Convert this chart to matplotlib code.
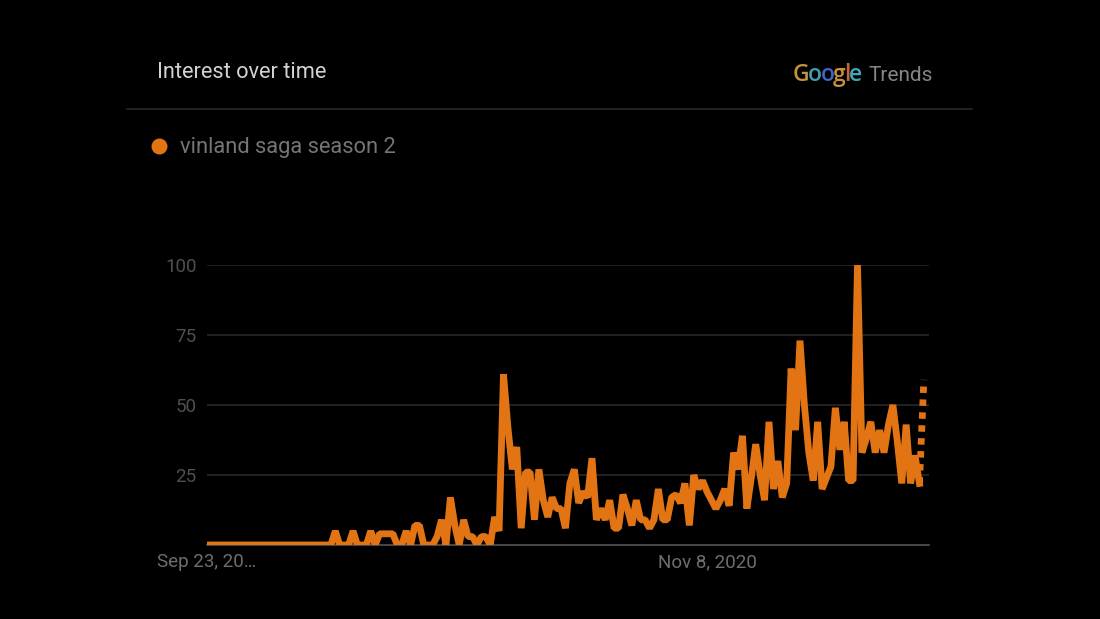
import numpy as np
import matplotlib
matplotlib.use("Agg")
import matplotlib.pyplot as plt

plt.rcParams['font.family'] = ['Roboto', 'DejaVu Sans']

# interest values, one per sample
values = [0] * 29 + [
    5, 0, 0, 0, 5, 0, 0, 0, 5, 0, 4, 4, 4, 4, 0, 0,
    5, 0, 7, 7, 0, 0, 0, 3, 9, 0, 17, 7, 0, 9, 3, 3,
    0, 3, 3, 0, 10, 5, 61, 42, 27, 35, 6, 26, 26, 9, 27, 16,
    10, 17, 13, 13, 6, 22, 27, 15, 19, 17, 31, 9, 13, 9, 16, 6,
    6, 18, 13, 7, 16, 9, 9, 6, 9, 20, 9, 9, 17, 18, 15, 22,
    7, 25, 20, 23, 19, 16, 13, 16, 20, 14, 33, 27, 39, 13, 24, 36,
    25, 16, 44, 20, 30, 17, 22, 63, 41, 73, 50, 33, 23, 44, 20, 24,
    28, 49, 34, 44, 23, 23, 100, 33, 38, 44, 33, 41, 33, 43, 50, 37,
    22, 43, 22, 32, 22, 59,
]
y_ticks = [25, 50, 75, 100]
y_labels = ['25', '50', '75', '100']
x_tick_pos = [0, 113]
x_labels = ['Sep 23, 20…', 'Nov 8, 2020']
series_name = 'vinland saga season 2'
logo_letters = ['G', 'o', 'o', 'g', 'l', 'e']
logo_colors = ['#c8923c', '#3f9fb0', '#4065c4', '#c8923c', '#c4683c', '#3fa9b8']

W, H = 1100, 619
ORANGE = '#e37414'

fig = plt.figure(figsize=(W / 100, H / 100), dpi=100, facecolor='black')
ax = fig.add_axes([207 / W, 1 - 545 / H, (929 - 207) / W, 280 / H], facecolor='black')

x = np.arange(len(values))
ax.plot(x[:-1], values[:-1], color=ORANGE, lw=4.9, solid_joinstyle='bevel', zorder=3)
ax.plot(x[-2:], values[-2:], color=ORANGE, lw=4.9, linestyle=(0, (0.95, 0.95)), zorder=3)

ax.set_xlim(0, 163.16)
ax.set_ylim(0, 100)
ax.set_yticks(y_ticks, y_labels)
ax.set_xticks(x_tick_pos, x_labels)
ax.tick_params(axis='y', length=0, pad=7.5, labelsize=13.5, labelcolor='#4f4f4f')
ax.tick_params(axis='x', length=0, pad=6, labelsize=13.5, labelcolor='#6e6e6e')
ax.grid(axis='y', color='#2b2b2b', lw=1.1)
ax.set_axisbelow(True)
for side in ['top', 'left', 'right']:
    ax.spines[side].set_visible(False)
ax.spines['bottom'].set_color('#5c5c5c')
ax.spines['bottom'].set_linewidth(1.1)

# header
fig.text(157 / W, 1 - 72 / H, 'Interest over time', color='#d2d2d2', fontsize=15.7, va='center')
fig.add_artist(plt.Line2D([127 / W, 972 / W], [1 - 108.5 / H] * 2, color='#2b2b2b', lw=1.1))

# legend
fig.add_artist(plt.Line2D([159 / W], [1 - 146 / H], marker='o', ms=11.5, color=ORANGE, mew=0))
fig.text(180 / W, 1 - 148 / H, series_name, color='#757575', fontsize=15.75, va='center')

# logo, one letter after the other
fig.canvas.draw()
renderer = fig.canvas.get_renderer()
pos = 793
for letter, col in zip(logo_letters, logo_colors):
    t = fig.text(pos / W, 1 - 81 / H, letter, color=col, fontsize=16.5, fontweight='semibold',
                 family=['Open Sans', 'DejaVu Sans'], va='baseline')
    pos += t.get_window_extent(renderer).width - 1.6
fig.text(868.5 / W, 1 - 81 / H, 'Trends', color='#858585', fontsize=15, va='baseline')

fig.savefig('out.png', dpi=100, facecolor='black')
